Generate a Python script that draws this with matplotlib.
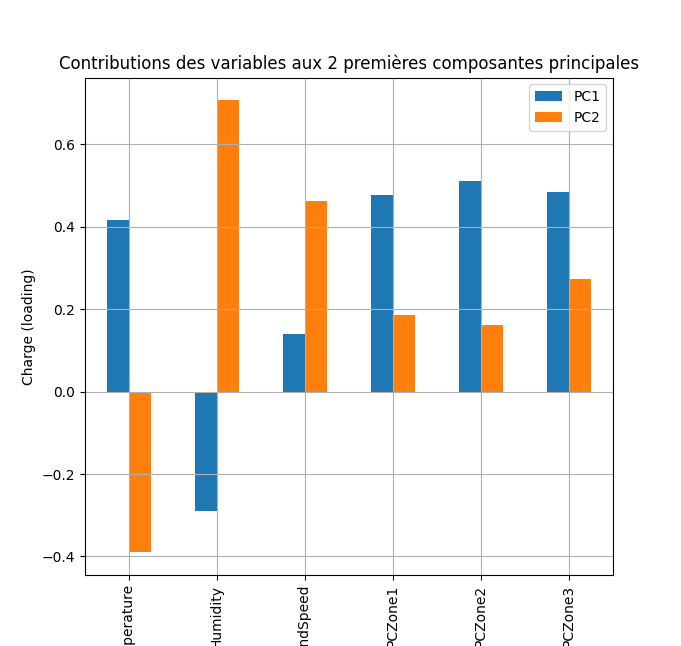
import matplotlib
matplotlib.use("Agg")
import matplotlib.pyplot as plt
import pandas as pd

variables = ["Temperature", "Humidity", "WindSpeed", "PCZone1", "PCZone2", "PCZone3"]
pc1 = [0.415, -0.290, 0.140, 0.477, 0.511, 0.485]
pc2 = [-0.390, 0.707, 0.462, 0.186, 0.162, 0.274]

loadings = pd.DataFrame({"PC1": pc1, "PC2": pc2}, index=variables)

fig, ax = plt.subplots(figsize=(6.81, 6.46), dpi=100)
loadings.plot(kind="bar", ax=ax)
ax.set_title("Contributions des variables aux 2 premières composantes principales")
ax.set_ylabel("Charge (loading)")
ax.grid(True)
fig.savefig("out.png", dpi=100)
